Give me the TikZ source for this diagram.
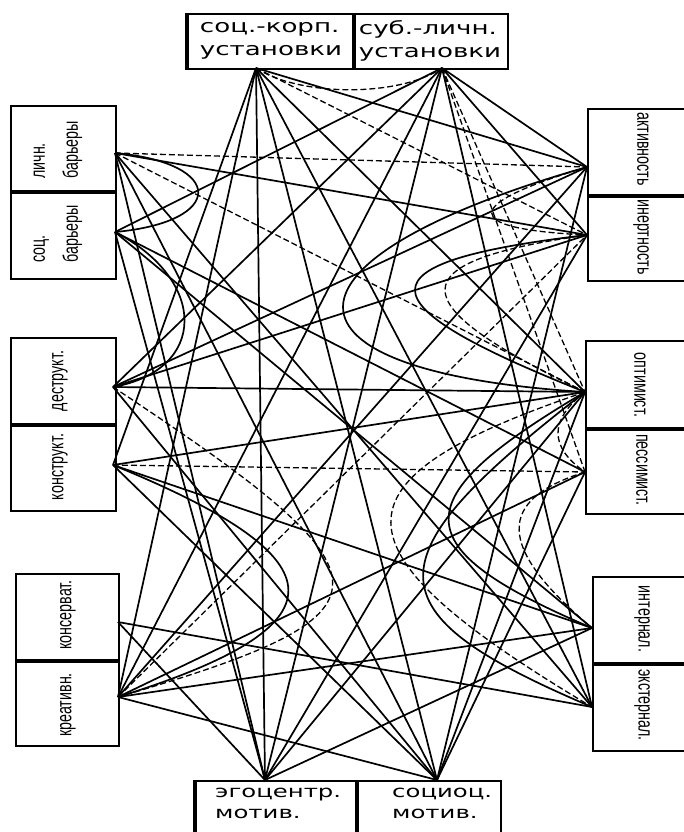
\documentclass[tikz,border=0pt]{standalone}
\usepackage{fontspec}
\newfontfamily\wideface[FakeStretch=1.45]{DejaVu Sans}
\newfontfamily\narrowface[FakeStretch=0.68]{Liberation Sans}
\begin{document}
\begin{tikzpicture}[x=1pt,y=-1pt,
  boxs/.style={draw,line width=2.2pt,inner sep=0pt},
  divider/.style={line width=4.5pt},
  conn/.style={line width=1.7pt},
  dconn/.style={line width=1.3pt,dash pattern=on 6pt off 3pt},
  htext/.style={font=\wideface\fontsize{18}{23}\selectfont,align=left,inner sep=0pt},
  btext/.style={font=\wideface\fontsize{16.8}{21}\selectfont,align=left,inner sep=0pt},
  ltext/.style={font=\narrowface\fontsize{21}{33}\selectfont,rotate=90,align=left,inner sep=0pt},
  rtext/.style={font=\narrowface\fontsize{21}{33}\selectfont,rotate=-90,align=left,inner sep=0pt}]
\useasboundingbox (0,0) rectangle (684,832);
\begin{scope}
\clip (0,0) rectangle (684,832);
% ---------- boxes ----------
\node[boxs,anchor=north west,minimum width=165pt,minimum height=55pt] (bt1) at (187,13) {};
\node[boxs,anchor=north west,minimum width=155pt,minimum height=55pt] (bt2) at (352,13) {};
\node[htext] (xt1) at (271,41) {соц.-корп.\\установки};
\node[htext] (xt2) at (430,41) {суб.-личн.\\установки};
\draw[divider] (bt1.north east) -- (bt1.south east);
\draw[divider] (bt1.north west) -- (bt1.south west);

\node[boxs,anchor=north west,minimum width=105pt,minimum height=85pt] (bl1) at (10,105) {};
\node[boxs,anchor=north west,minimum width=105pt,minimum height=88pt] (bl2) at (10,190) {};
\node[boxs,anchor=north west,minimum width=105pt,minimum height=86pt] (bl3) at (10,337) {};
\node[boxs,anchor=north west,minimum width=105pt,minimum height=87pt] (bl4) at (10,423) {};
\node[boxs,anchor=north west,minimum width=103pt,minimum height=86pt] (bl5) at (15,573) {};
\node[boxs,anchor=north west,minimum width=103pt,minimum height=86pt] (bl6) at (15,659) {};
\draw[divider] (bl1.south west) -- (bl1.south east);
\draw[divider] (bl3.south west) -- (bl3.south east);
\draw[divider] (bl5.south west) -- (bl5.south east);
\node[ltext] (xl1) at (58,150) {личн.\\барьеры};
\node[ltext] (xl2) at (58,234) {соц.\\барьеры};
\node[ltext] (xl3) at (60,381) {деструкт.};
\node[ltext] (xl4) at (60,467) {конструкт.};
\node[ltext] (xl5) at (68,615) {консерват.};
\node[ltext] (xl6) at (68,705) {креативн.};

\node[boxs,anchor=north west,minimum width=160pt,minimum height=86pt] (br1) at (587,108) {};
\node[boxs,anchor=north west,minimum width=160pt,minimum height=86pt] (br2) at (587,194) {};
\node[boxs,anchor=north west,minimum width=160pt,minimum height=87pt] (br3) at (585,340) {};
\node[boxs,anchor=north west,minimum width=160pt,minimum height=86pt] (br4) at (585,427) {};
\node[boxs,anchor=north west,minimum width=160pt,minimum height=86pt] (br5) at (592,576) {};
\node[boxs,anchor=north west,minimum width=160pt,minimum height=88pt] (br6) at (592,662) {};
\draw[divider] (br1.south west) -- (br1.south east);
\draw[divider] (br3.south west) -- (br3.south east);
\draw[divider] (br5.south west) -- (br5.south east);
\node[rtext] (xr1) at (643,149) {активность};
\node[rtext] (xr2) at (641,237) {инертность};
\node[rtext] (xr3) at (640,385) {оптимист.};
\node[rtext] (xr4) at (642,470) {пессимист.};
\node[rtext] (xr5) at (642,619) {интернал.};
\node[rtext] (xr6) at (642,705) {экстернал.};

\node[boxs,anchor=north west,minimum width=160pt,minimum height=80pt] (bb1) at (195,780) {};
\node[boxs,anchor=north west,minimum width=145pt,minimum height=80pt] (bb2) at (355,780) {};
\draw[divider] (bb1.north east) -- (bb1.south east);
\draw[divider] (bb1.north west) -- (bb1.south west);
\node[btext,anchor=north west] (xb1) at (215,788) {эгоцентр.\\мотив.};
\node[btext,anchor=north west] (xb2) at (392,788) {социоц.\\мотив.};
\end{scope}

% ---------- anchor points ----------
\coordinate (t1) at (256,68);
\coordinate (t2) at (442,68);
\coordinate (l1) at (115,153);
\coordinate (l2) at (115,232);
\coordinate (l3) at (113,387);
\coordinate (l4) at (113,465);
\coordinate (l5) at (118,622);
\coordinate (l6) at (118,697);
\coordinate (r1) at (587,167);
\coordinate (r2) at (587,235);
\coordinate (r3) at (585,392);
\coordinate (r4) at (585,472);
\coordinate (r5) at (592,628);
\coordinate (r6) at (592,707);
\coordinate (b1) at (265,780);
\coordinate (b2) at (437,780);

% ---------- solid straight connectors ----------
\foreach \a/\b in {t1/r1,t1/r3,t1/r6,t1/b2,t1/l4,t1/l6,t1/b1,
  t2/l2,t2/l3,t2/l6,t2/b1,t2/r2,t2/r6,t2/r1,
  l1/r2,l1/r6,l1/b1,l1/b2,
  l2/b1,l2/r5,l2/r4,
  l3/r1,l3/r2,l3/b2,l3/r3,
  l4/r3,l4/r5,l4/b2,
  l5/r6,l5/b1,
  l6/r1,l6/r4,l6/r5,l6/b2,
  r2/b1,r3/b1,r4/b2,r3/b2,r1/b2,r5/b1}
  \draw[conn] (\a) -- (\b);
% ---------- dashed straight connectors ----------
\foreach \a/\b in {t1/r2,t2/r3,t2/r4,l1/r1,l1/r3,l4/r4,l6/r2}
  \draw[dconn] (\a) -- (\b);
% ---------- curved connectors ----------
\draw[dconn] (t1) .. controls (300,97) and (400,97) .. (t2);
\draw[conn] (l1) .. controls (226,163) and (226,222) .. (l2);
\draw[conn] (l2) .. controls (208,280) and (208,370) .. (l3);
\draw[conn] (l4) .. controls (346,560) and (346,626) .. (l6);
\draw[dconn] (l3) .. controls (405,580) and (405,613) .. (l6);
\draw[conn] (r1) .. controls (262,260) and (262,372) .. (r3);
\draw[conn] (r2) .. controls (358,262) and (358,302) .. (r3);
\draw[dconn] (r2) .. controls (398,262) and (398,302) .. (r3);
\draw[dconn] (r1) .. controls (460,205) and (460,229) .. (r2);
\draw[conn] (r3) .. controls (368,560) and (368,612) .. (r6);
\draw[conn] (r3) .. controls (402,500) and (402,547) .. (r5);
\draw[dconn] (r3) .. controls (325,480) and (325,548) .. (r6);
\draw[dconn] (r4) .. controls (496,500) and (496,547) .. (r5);
\draw[dconn] (r3) .. controls (549,420) and (549,447) .. (r4);
\end{tikzpicture}
\end{document}
